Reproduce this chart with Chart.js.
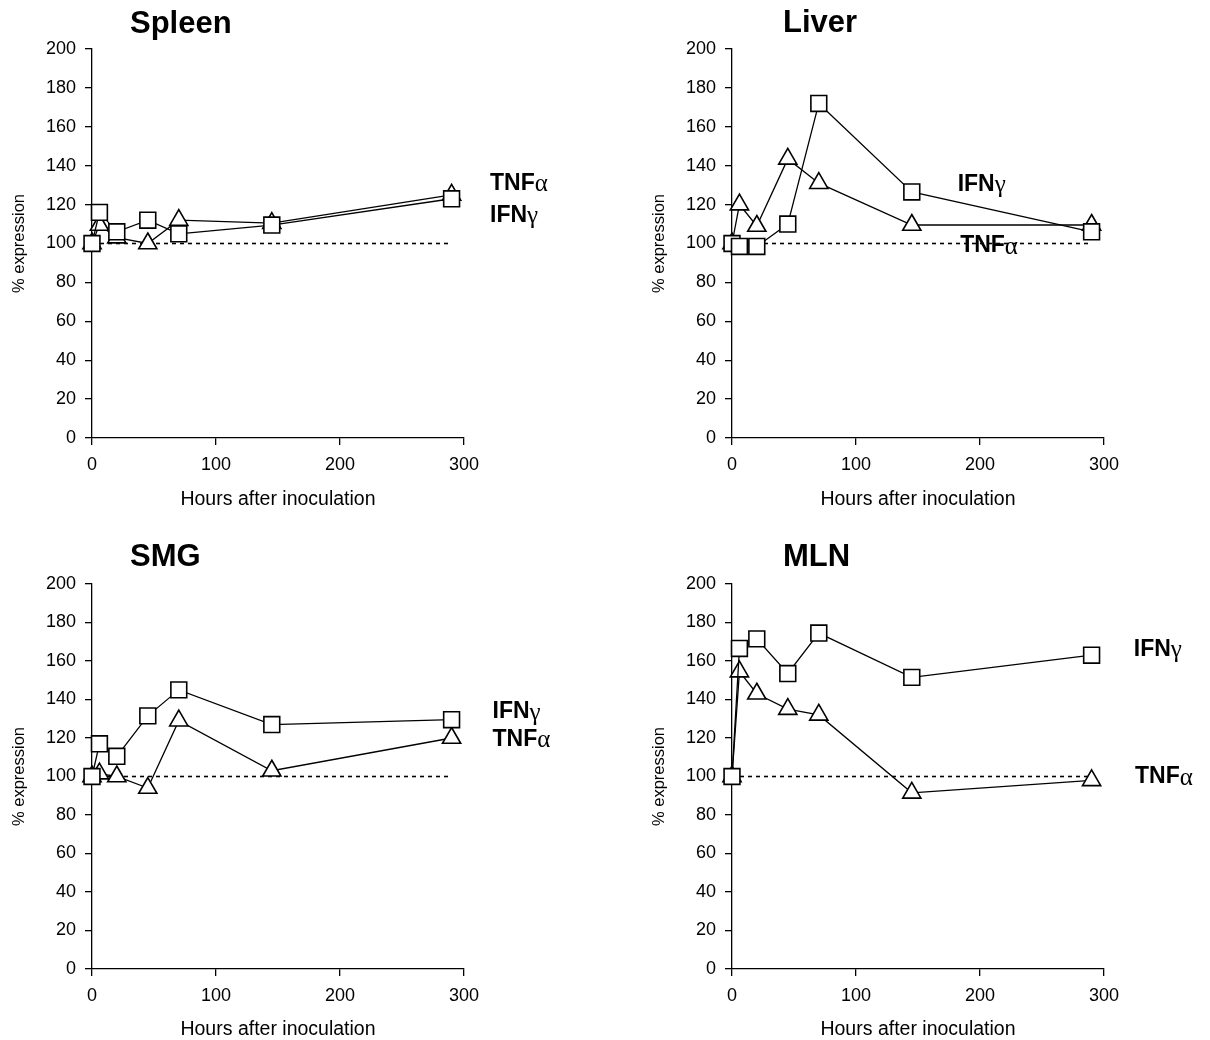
<!DOCTYPE html>
<html>
<head>
<meta charset="utf-8">
<script src="https://cdn.jsdelivr.net/npm/chart.js@4.4.0/dist/chart.umd.min.js"></script>
<style>
    body { margin: 0; background: #fff; width: 1210px; height: 1040px; position: relative; overflow: hidden; }
    canvas { position: absolute; }
</style>
</head>
<body>
<canvas id="spleen" width="605" height="520" style="left:0;top:0"></canvas>
<canvas id="liver" width="605" height="520" style="left:605px;top:0"></canvas>
<canvas id="smg" width="605" height="520" style="left:0;top:520px"></canvas>
<canvas id="mln" width="605" height="520" style="left:605px;top:520px"></canvas>
<script>
'use strict';

// sampling times (hours after inoculation)
const hours = [0, 6, 20, 45, 70, 145, 290];

// % expression
const spleenIFNg = [100, 116, 106, 112, 105, 109.5, 123];
const spleenTNFa = [100, 109.5, 103, 100, 112, 110.5, 125];
const liverIFNg = [100, 98.5, 98.5, 110, 172, 126.5, 106];
const liverTNFa = [100, 120, 109, 143.5, 131, 109.5, 109.5];
const smgIFNg = [100, 117, 110.5, 131.5, 145, 127, 129.5];
const smgTNFa = [100, 101.5, 100, 94, 129, 103, 120];
const mlnIFNg = [100, 166.5, 171.5, 153.5, 174.5, 151.5, 163];
const mlnTNFa = [100, 154.5, 143, 135, 132, 91.5, 98];

// dotted 100% reference line
const baselineX = [0, 288];
const baselineY = 100;

const xTicks = [0, 100, 200, 300];
const yTicks = [0, 20, 40, 60, 80, 100, 120, 140, 160, 180, 200];

const FONT = '"Liberation Sans", Arial, sans-serif';

const panelText = {
    id: 'panelText',
    afterDraw: function (chart, args, opts) {
        const ctx = chart.ctx;
        const xs = chart.scales.x, ys = chart.scales.y;
        ctx.save();
        ctx.fillStyle = '#000';
        ctx.textBaseline = 'middle';
        ctx.textAlign = 'left';
        ctx.font = 'bold 31px ' + FONT;
        ctx.fillText(opts.title, opts.titleX, opts.titleY);
        opts.labels.forEach(function (l) {
            const px = xs.getPixelForValue(l.x);
            const py = ys.getPixelForValue(l.y);
            ctx.font = 'bold 23px ' + FONT;
            ctx.fillText(l.name, px, py);
            const w = ctx.measureText(l.name).width;
            ctx.font = '25px "Liberation Serif", serif';
            ctx.fillText(l.greek, px + w, py + 1);
        });
        ctx.restore();
    }
};

function makeSeries(values) {
    return hours.map(function (h, i) { return { x: h, y: values[i] }; });
}

function drawPanel(id, canvasPos, area, xTitleGap, ifng, tnfa, title, labels) {
    const ctx = document.getElementById(id).getContext('2d');
    const yWidth = 92;

    new Chart(ctx, {
        type: 'scatter',
        data: {
            datasets: [{
                data: makeSeries(ifng),
                showLine: true,
                borderColor: '#000',
                borderWidth: 1.3,
                pointStyle: 'rect',
                pointRadius: 11.2,
                pointBackgroundColor: '#fff',
                pointBorderColor: '#000',
                pointBorderWidth: 1.6,
                clip: false
            }, {
                data: makeSeries(tnfa),
                showLine: true,
                borderColor: '#000',
                borderWidth: 1.3,
                pointStyle: 'triangle',
                pointRadius: 10.5,
                pointBackgroundColor: '#fff',
                pointBorderColor: '#000',
                pointBorderWidth: 1.6,
                clip: false
            }, {
                data: baselineX.map(function (x) { return { x: x, y: baselineY }; }),
                showLine: true,
                borderColor: '#000',
                borderWidth: 1.6,
                borderDash: [4, 4],
                pointRadius: 0,
                clip: false
            }]
        },
        options: {
            responsive: false,
            animation: false,
            events: [],
            layout: {
                padding: {
                    left: area.l - canvasPos.left - yWidth,
                    top: area.t - canvasPos.top,
                    right: canvasPos.left + 605 - area.r,
                    bottom: 0
                }
            },
            plugins: {
                legend: { display: false },
                tooltip: { enabled: false },
                panelText: { title: title.text, titleX: title.x, titleY: title.y, labels: labels }
            },
            scales: {
                x: {
                    type: 'linear',
                    min: 0,
                    max: 300,
                    afterFit: function (s) { s.height = canvasPos.top + 520 - area.b; },
                    afterBuildTicks: function (s) { s.ticks = xTicks.map(function (v) { return { value: v }; }); },
                    ticks: { color: '#000', font: { family: FONT, size: 18 }, padding: 9, maxRotation: 0 },
                    grid: { drawOnChartArea: false, drawTicks: true, tickLength: 7, color: '#000', lineWidth: 1.3 },
                    border: { display: true, color: '#000', width: 1.3 },
                    title: {
                        display: true,
                        text: 'Hours after inoculation',
                        color: '#000',
                        font: { family: FONT, size: 19.5, lineHeight: 1 },
                        padding: { top: 0, bottom: xTitleGap - 9.75 }
                    }
                },
                y: {
                    type: 'linear',
                    min: 0,
                    max: 200,
                    afterFit: function (s) { s.width = yWidth; },
                    afterBuildTicks: function (s) { s.ticks = yTicks.map(function (v) { return { value: v }; }); },
                    ticks: { color: '#000', font: { family: FONT, size: 18 }, padding: 9 },
                    grid: { drawOnChartArea: false, drawTicks: true, tickLength: 7, color: '#000', lineWidth: 1.3 },
                    border: { display: true, color: '#000', width: 1.3 },
                    title: {
                        display: true,
                        text: '% expression',
                        color: '#000',
                        font: { family: FONT, size: 16.5, lineHeight: 1 },
                        padding: { top: 11, bottom: 0 }
                    }
                }
            }
        },
        plugins: [panelText]
    });
}

drawPanel('spleen', { left: 0, top: 0 }, { l: 92, t: 49, r: 464, b: 438 }, 20,
    spleenIFNg, spleenTNFa, { text: 'Spleen', x: 130, y: 24 },
    [{ name: 'TNF', greek: 'α', x: 321, y: 131 }, { name: 'IFN', greek: 'γ', x: 321, y: 114.5 }]);

drawPanel('liver', { left: 605, top: 0 }, { l: 732, t: 49, r: 1104, b: 438 }, 20,
    liverIFNg, liverTNFa, { text: 'Liver', x: 178, y: 23 },
    [{ name: 'IFN', greek: 'γ', x: 182, y: 130.5 }, { name: 'TNF', greek: 'α', x: 184, y: 98.7 }]);

drawPanel('smg', { left: 0, top: 520 }, { l: 92, t: 584, r: 464, b: 969 }, 10,
    smgIFNg, smgTNFa, { text: 'SMG', x: 130, y: 37 },
    [{ name: 'IFN', greek: 'γ', x: 323, y: 133.5 }, { name: 'TNF', greek: 'α', x: 323, y: 119 }]);

drawPanel('mln', { left: 605, top: 520 }, { l: 732, t: 584, r: 1104, b: 969 }, 10,
    mlnIFNg, mlnTNFa, { text: 'MLN', x: 178, y: 37 },
    [{ name: 'IFN', greek: 'γ', x: 324, y: 166 }, { name: 'TNF', greek: 'α', x: 325, y: 99.7 }]);
</script>
</body>
</html>
